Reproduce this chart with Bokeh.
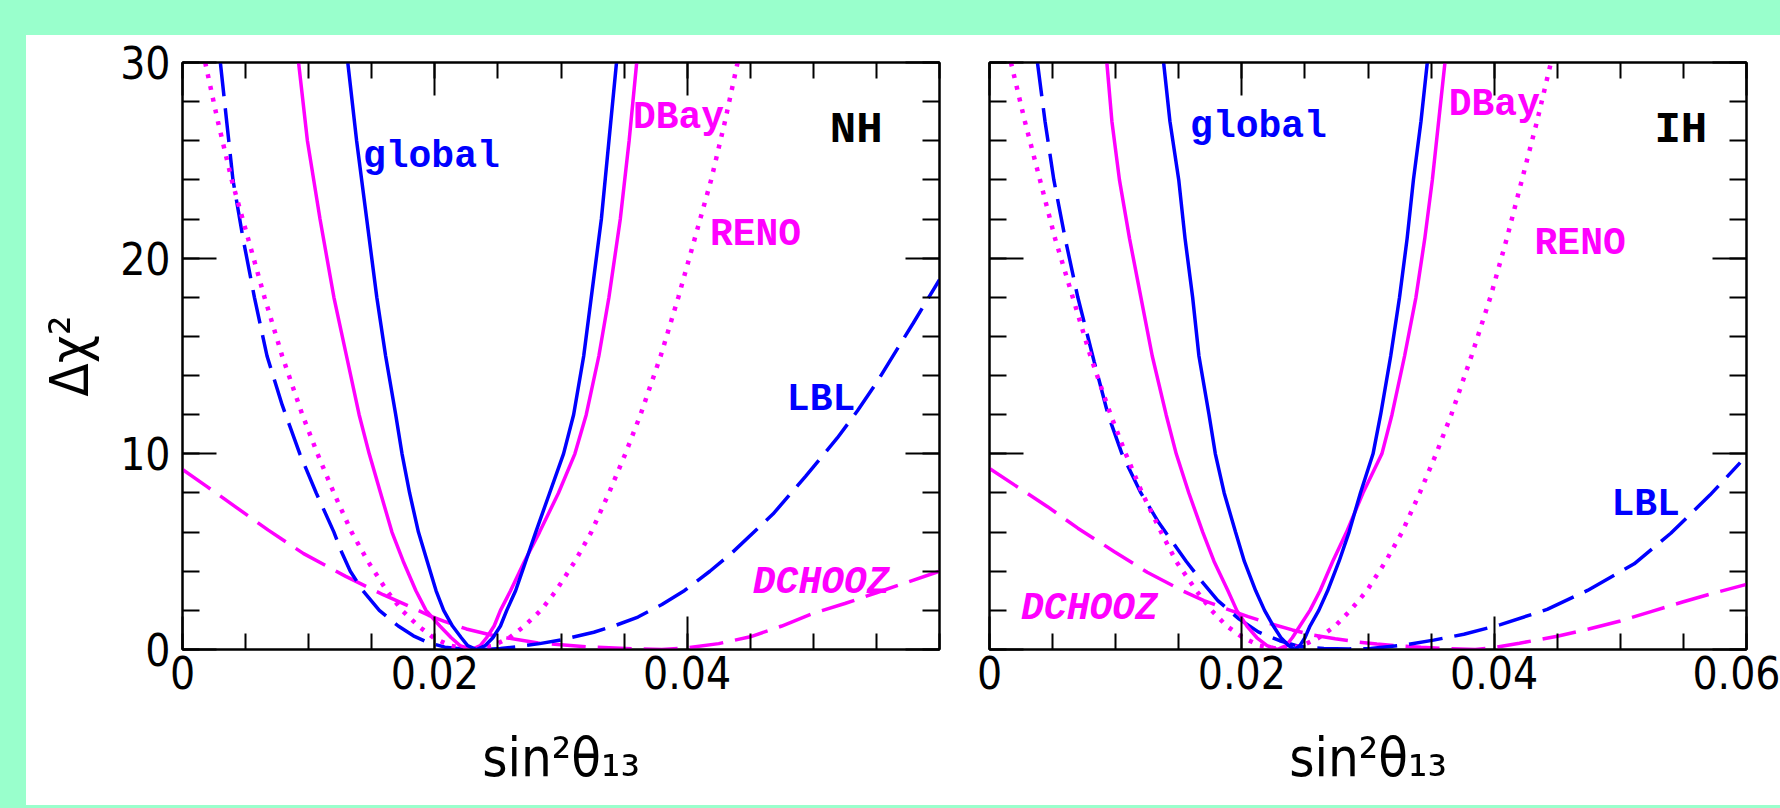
import numpy as np
from bokeh.plotting import figure
from bokeh.models import LinearAxis, FixedTicker, Label, Range1d
from bokeh.layouts import row, column
from bokeh.embed import file_html
from bokeh.resources import INLINE

BLUE = "#0000ff"
MAG = "#ff00ff"
BG = "#99ffcc"

# ---------------- data ----------------
x_tick_vals = [0.0, 0.02, 0.04, 0.06]
x_tick_labels = ["0", "0.02", "0.04", "0.06"]
y_tick_vals = [0, 10, 20, 30]
y_tick_labels = ["0", "10", "20", "30"]

# ---- Normal hierarchy (left panel) ----
global_nh_x = [0.0131, 0.0138, 0.0146, 0.0154, 0.0161, 0.0169, 0.0174, 0.0180, 0.0187, 0.0194, 0.0201, 0.0207, 0.0214, 0.0221, 0.0226, 0.0233,
               0.0240, 0.0246, 0.0252, 0.0257, 0.0264, 0.0272, 0.0280, 0.0291, 0.0302, 0.0310, 0.0318, 0.0324, 0.0332, 0.0338, 0.0344]
global_nh_y = [30, 26, 22, 18, 15, 12, 10, 8, 6, 4.5, 3, 2, 1.2, 0.6, 0.2, 0,
               0.2, 0.6, 1.2, 2, 3, 4.5, 6, 8, 10, 12, 15, 18, 22, 26, 30]

dbay_nh_x = [0.0092, 0.0099, 0.0109, 0.0120, 0.0130, 0.0140, 0.0148, 0.0157, 0.0166, 0.0175, 0.0185, 0.0193, 0.0204, 0.0213, 0.0220, 0.0229,
             0.0236, 0.0241, 0.0247, 0.0252, 0.0260, 0.0271, 0.0283, 0.0298, 0.0311, 0.0320, 0.0330, 0.0338, 0.0347, 0.0354, 0.0360]
dbay_nh_y = [30, 26, 22, 18, 15, 12, 10, 8, 6, 4.5, 3, 2, 1.2, 0.6, 0.2, 0,
             0.2, 0.6, 1.2, 2, 3, 4.5, 6, 8, 10, 12, 15, 18, 22, 26, 30]

reno_nh_x = [0.0018, 0.0028, 0.0039, 0.0052, 0.0065, 0.0079, 0.0095, 0.0107, 0.0120, 0.0134, 0.0147, 0.0162, 0.0174, 0.0187, 0.0199, 0.0212, 0.0229,
             0.0246, 0.0259, 0.0271, 0.0284, 0.0296, 0.0311, 0.0324, 0.0338, 0.0351, 0.0363, 0.0379, 0.0393, 0.0406, 0.0419, 0.0430, 0.0440]
reno_nh_y = [30, 27, 24, 21, 18, 15, 12, 10, 8, 6, 4.5, 3, 2, 1.2, 0.6, 0.2, 0,
             0.2, 0.6, 1.2, 2, 3, 4.5, 6, 8, 10, 12, 15, 18, 21, 24, 27, 30]

lbl_nh_x = [0.0030, 0.0035, 0.0040, 0.0048, 0.0057, 0.0067, 0.0079, 0.0093, 0.0106, 0.0120, 0.0126, 0.0133, 0.0143, 0.0156, 0.0171, 0.0183, 0.0195, 0.0208, 0.0222, 0.0240,
            0.0252, 0.0265, 0.0283, 0.0300, 0.0326, 0.0344, 0.0361, 0.0380, 0.0398, 0.0418, 0.0436, 0.0468, 0.0494, 0.0519, 0.0535, 0.0551, 0.0565, 0.0579, 0.0600]
lbl_nh_y = [30, 27, 24, 21, 18, 15, 12.5, 10, 8, 6, 5, 4, 3, 2, 1.2, 0.7, 0.35, 0.12, 0.03, 0,
            0.05, 0.14, 0.3, 0.49, 0.88, 1.25, 1.66, 2.3, 3.02, 4.0, 4.97, 6.92, 8.86, 10.81, 12.2, 13.73, 15.2, 16.66, 18.9]

dchooz_nh_x = [0.0, 0.0020, 0.0044, 0.0068, 0.0096, 0.0129, 0.0159, 0.0180, 0.0195, 0.0207, 0.0225, 0.0247, 0.0282, 0.0321, 0.0361, 0.0380,
               0.0400, 0.0425, 0.0450, 0.0475, 0.0500, 0.0525, 0.0550, 0.0575, 0.0600]
dchooz_nh_y = [9.2, 8.3, 7.2, 6.1, 4.9, 3.75, 2.8, 2.2, 1.75, 1.45, 1.05, 0.7, 0.33, 0.13, 0.03, 0.0,
               0.08, 0.3, 0.65, 1.2, 1.85, 2.35, 2.9, 3.45, 4.0]

# ---- Inverted hierarchy (right panel) ----
global_ih_x = [0.0138, 0.0143, 0.0150, 0.0155, 0.0161, 0.0166, 0.0174, 0.0179, 0.0186, 0.0195, 0.0202, 0.0211, 0.0218, 0.0225, 0.0231, 0.0237, 0.0242,
               0.0246, 0.0250, 0.0254, 0.0261, 0.0268, 0.0277, 0.0285, 0.0294, 0.0304, 0.0310, 0.0318, 0.0325, 0.0331, 0.0336, 0.0342, 0.0347]
global_ih_y = [30, 27, 24, 21, 18, 15, 12, 10, 8, 6, 4.5, 3, 2, 1.2, 0.6, 0.2, 0,
               0.2, 0.6, 1.2, 2, 3, 4.5, 6, 8, 10, 12, 15, 18, 21, 24, 27, 30]

dbay_ih_x = [0.0093, 0.0097, 0.0103, 0.0111, 0.0120, 0.0129, 0.0140, 0.0148, 0.0158, 0.0169, 0.0178, 0.0189, 0.0196, 0.0204, 0.0212, 0.0220, 0.0228,
             0.0235, 0.0240, 0.0246, 0.0254, 0.0262, 0.0272, 0.0283, 0.0296, 0.0311, 0.0319, 0.0329, 0.0338, 0.0345, 0.0351, 0.0356, 0.0361]
dbay_ih_y = [30, 27, 24, 21, 18, 15, 12, 10, 8, 6, 4.5, 3, 2, 1.2, 0.6, 0.2, 0,
             0.2, 0.6, 1.2, 2, 3, 4.5, 6, 8, 10, 12, 15, 18, 21, 24, 27, 30]

reno_ih_x = [0.0017, 0.0028, 0.0040, 0.0052, 0.0066, 0.0080, 0.0096, 0.0108, 0.0121, 0.0136, 0.0148, 0.0164, 0.0176, 0.0188, 0.0201, 0.0214, 0.0231,
             0.0248, 0.0261, 0.0274, 0.0286, 0.0299, 0.0314, 0.0327, 0.0341, 0.0354, 0.0366, 0.0382, 0.0397, 0.0410, 0.0422, 0.0434, 0.0445]
reno_ih_y = [30, 27, 24, 21, 18, 15, 12, 10, 8, 6, 4.5, 3, 2, 1.2, 0.6, 0.2, 0,
             0.2, 0.6, 1.2, 2, 3, 4.5, 6, 8, 10, 12, 15, 18, 21, 24, 27, 30]

lbl_ih_x = [0.0038, 0.0044, 0.0051, 0.0060, 0.0070, 0.0083, 0.0094, 0.0105, 0.0120, 0.0134, 0.0145, 0.0156, 0.0168, 0.0181, 0.0197, 0.0213, 0.0230, 0.0246, 0.0265,
            0.0285, 0.0302, 0.0328, 0.0352, 0.0376, 0.0405, 0.0442, 0.0474, 0.0511, 0.0540, 0.0571, 0.0595]
lbl_ih_y = [30, 27, 24, 21, 18, 14.7, 12, 10, 8, 6.5, 5.5, 4.5, 3.5, 2.5, 1.6, 0.9, 0.45, 0.15, 0.05,
            0.03, 0.05, 0.22, 0.48, 0.78, 1.27, 2.05, 3.02, 4.38, 5.94, 7.89, 9.55]

dchooz_ih_x = [0.0, 0.0020, 0.0046, 0.0070, 0.0099, 0.0125, 0.0153, 0.0170, 0.0191, 0.0205, 0.0222, 0.0240, 0.0257, 0.0274, 0.0291, 0.0307, 0.0323, 0.0342, 0.0362,
               0.0385, 0.0400, 0.0420, 0.0450, 0.0475, 0.0500, 0.0525, 0.0550, 0.0575, 0.0600]
dchooz_ih_y = [9.25, 8.4, 7.3, 6.2, 5.0, 3.95, 3.0, 2.5, 2.0, 1.68, 1.33, 1.0, 0.73, 0.55, 0.39, 0.28, 0.19, 0.11, 0.05,
               0.0, 0.1, 0.32, 0.68, 1.05, 1.46, 1.95, 2.44, 2.9, 3.33]

# curve labels: (text, x, y, color, style)
labels_nh = [
    ("global", 0.0143, 25.2, BLUE, "bold"),
    ("DBay", 0.0357, 27.2, MAG, "bold"),
    ("RENO", 0.0418, 21.2, MAG, "bold"),
    ("LBL", 0.0479, 12.8, BLUE, "bold"),
    ("DCHOOZ", 0.0452, 3.4, MAG, "bold italic"),
]
labels_ih = [
    ("global", 0.0159, 26.75, BLUE, "bold"),
    ("DBay", 0.0364, 27.85, MAG, "bold"),
    ("RENO", 0.0432, 20.75, MAG, "bold"),
    ("LBL", 0.0493, 7.4, BLUE, "bold"),
    ("DCHOOZ", 0.0025, 2.1, MAG, "bold italic"),
]

TICK_FONT = "'DejaVu Sans Condensed', 'DejaVu Sans'"
MONO = "'Liberation Mono'"


def add_axis(p, side, ticks, minor, labels, show, tin_major, tin_minor):
    ax = LinearAxis(ticker=FixedTicker(ticks=ticks, minor_ticks=minor))
    ax.axis_line_color = "black"
    ax.axis_line_width = 2
    ax.major_tick_line_color = "black"
    ax.major_tick_line_width = 2
    ax.minor_tick_line_color = "black"
    ax.minor_tick_line_width = 2
    ax.major_tick_in = tin_major
    ax.major_tick_out = 0
    ax.minor_tick_in = tin_minor
    ax.minor_tick_out = 0
    if show:
        ax.major_label_overrides = {t: l for t, l in zip(ticks, labels)}
        ax.major_label_text_font = TICK_FONT
        ax.major_label_text_font_size = "44px"
        ax.major_label_text_color = "black"
        ax.major_label_standoff = 6 if side == "below" else 12
    else:
        ax.major_label_overrides = {t: "" for t in ticks}
        ax.major_label_text_font_size = "10px"
        ax.major_label_standoff = 0
    p.add_layout(ax, side)
    return ax


def make_panel(width, mbl, mbr, show_y, xt, xl, curves, labels, tag, tag_x):
    p = figure(width=width, height=770, x_range=Range1d(0, 0.06), y_range=Range1d(0, 30),
               output_backend="svg", toolbar_location=None,
               x_axis_type=None, y_axis_type=None,
               min_border_left=mbl, min_border_right=mbr,
               min_border_top=27, min_border_bottom=156)
    p.grid.visible = False
    p.background_fill_color = "white"
    p.border_fill_color = "white"
    p.outline_line_color = "black"
    p.outline_line_width = 2

    xminor = list(np.arange(0, 0.0601, 0.005))
    yminor = list(np.arange(0, 30.1, 2.0))
    xb = add_axis(p, "below", xt, xminor, xl, True, 33, 16)
    xb.axis_label = "sin²θ₁₃"
    xb.axis_label_text_font = TICK_FONT
    xb.axis_label_text_font_size = "54px"
    xb.axis_label_text_font_style = "normal"
    xb.axis_label_text_color = "black"
    xb.axis_label_standoff = 34
    add_axis(p, "above", xt, xminor, xl, False, 33, 16)
    yl = add_axis(p, "left", y_tick_vals, yminor, y_tick_labels, show_y, 34, 17)
    if show_y:
        yl.axis_label = "Δχ²"
        yl.axis_label_text_font = TICK_FONT
        yl.axis_label_text_font_size = "54px"
        yl.axis_label_text_font_style = "normal"
        yl.axis_label_text_color = "black"
        yl.axis_label_standoff = 16
    add_axis(p, "right", y_tick_vals, yminor, y_tick_labels, False, 34, 17)

    for (xs, ys, color, dash, lw) in curves:
        p.line(xs, ys, line_color=color, line_width=lw, line_dash=dash)

    for (txt, x, y, color, style) in labels:
        p.add_layout(Label(x=x, y=y, text=txt, text_color=color, text_font=MONO,
                           text_font_size="38px", text_font_style=style,
                           text_baseline="alphabetic", text_align="left"))
    p.add_layout(Label(x=tag_x, y=26.55, text=tag, text_color="black", text_font=MONO,
                       text_font_size="44px", text_font_style="bold",
                       text_baseline="alphabetic"))
    return p


DASH = "34 12"
DOT = "4 8"
curves_nh = [
    (dchooz_nh_x, dchooz_nh_y, MAG, DASH, 3.5),
    (lbl_nh_x, lbl_nh_y, BLUE, DASH, 3.5),
    (reno_nh_x, reno_nh_y, MAG, DOT, 4.5),
    (dbay_nh_x, dbay_nh_y, MAG, "solid", 3.5),
    (global_nh_x, global_nh_y, BLUE, "solid", 3.5),
]
curves_ih = [
    (dchooz_ih_x, dchooz_ih_y, MAG, DASH, 3.5),
    (lbl_ih_x, lbl_ih_y, BLUE, DASH, 3.5),
    (reno_ih_x, reno_ih_y, MAG, DOT, 4.5),
    (dbay_ih_x, dbay_ih_y, MAG, "solid", 3.5),
    (global_ih_x, global_ih_y, BLUE, "solid", 3.5),
]

p1 = make_panel(938, 156, 25, True, x_tick_vals[:3], x_tick_labels[:3], curves_nh, labels_nh, "NH", 0.0513)
p2 = make_panel(816, 25, 34, False, x_tick_vals, x_tick_labels, curves_ih, labels_ih, "IH", 0.0527)

inner = row(p1, p2, styles={"background-color": "white"}, margin=(35, 0, 3, 26))
layout = column(inner, styles={"background-color": BG})
open("out.html", "w").write(file_html(layout, INLINE))
